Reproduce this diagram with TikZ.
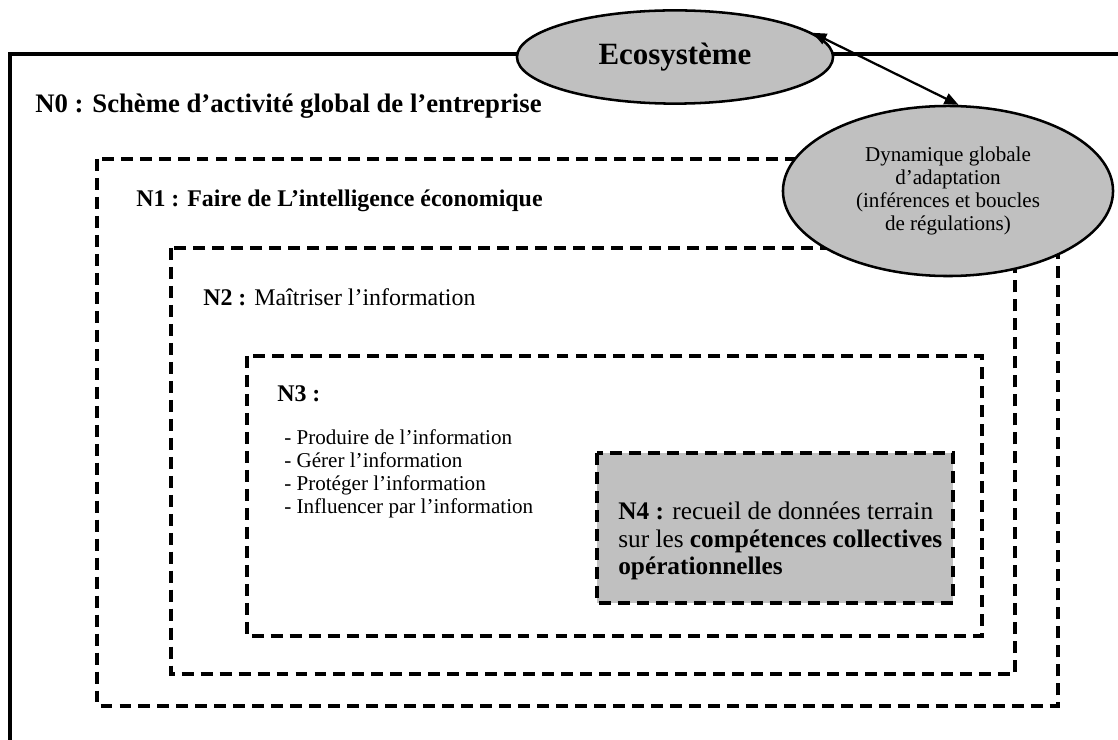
\documentclass[tikz,border=0pt]{standalone}
\usepackage{fontspec}
\setmainfont{Liberation Serif}
\usetikzlibrary{arrows.meta,shapes.geometric}
\definecolor{bubblegray}{RGB}{192,192,192}
\tikzset{
	levelbox/.style={line width=2.2pt, dash pattern=on 8.5pt off 5pt},
	bubble/.style={ellipse, draw, line width=1.8pt, fill=bubblegray, inner sep=0pt, align=center},
	leveltext/.style={anchor=west, inner sep=0pt, align=left},
}

\begin{document}
\begin{tikzpicture}[x=0.025cm, y=-0.025cm]
		%%%%% START %%%%%
		\useasboundingbox (0, 0) rectangle (1118, 740);
		
		\draw[line width=2.5pt] (1118, 54) -- (10, 54) -- (10, 740);
		\node[leveltext, font=\fontsize{19}{22}\selectfont\bfseries] (n0) at (35, 106) {N0 : Schème d’activité global de l’entreprise};
		
		\draw[levelbox] (97, 159) rectangle (1058, 706);
		\node[leveltext, font=\fontsize{17}{20}\selectfont\bfseries] (n1) at (136, 201) {N1 : Faire de L’intelligence économique};
		
		\draw[levelbox] (171, 248) rectangle (1015, 674);
		\node[leveltext, font=\fontsize{17}{20}\selectfont] (n2) at (203, 297) {\textbf{N2 :} Maîtriser l’information};
		
		\draw[levelbox] (247, 356) rectangle (982, 636);
		\node[leveltext, font=\fontsize{17}{20}\selectfont\bfseries] (n3) at (277, 394) {N3 :};
		\node[leveltext, font=\fontsize{15}{16.4}\selectfont] (n3list) at (284, 474) {- Produire de l’information\\- Gérer l’information\\- Protéger l’information\\- Influencer par l’information};
		
		\draw[levelbox, fill=bubblegray] (597, 453) rectangle (953, 603);
		\node[leveltext, font=\fontsize{18}{19.6}\selectfont] (n4) at (618, 541) {\textbf{N4 :} recueil de données terrain\\sur les \textbf{compétences collectives}\\\textbf{opérationnelles}};
		
		\node[bubble, minimum width=7.9cm, minimum height=2.33cm, font=\fontsize{22}{25}\selectfont\bfseries] (eco) at (675, 57) {Ecosystème};
		\node[bubble, minimum width=8.25cm, minimum height=4.25cm, font=\fontsize{15}{16.4}\selectfont] (dyn) at (948, 191) {Dynamique globale\\d’adaptation\\(inférences et boucles\\de régulations)};
		
		\draw[line width=1.6pt, {Triangle[length=10pt,width=8pt]}-{Triangle[length=10pt,width=8pt]}] (eco.10) -- (dyn.83);
		%%%%% END %%%%%
\end{tikzpicture}
\end{document}
